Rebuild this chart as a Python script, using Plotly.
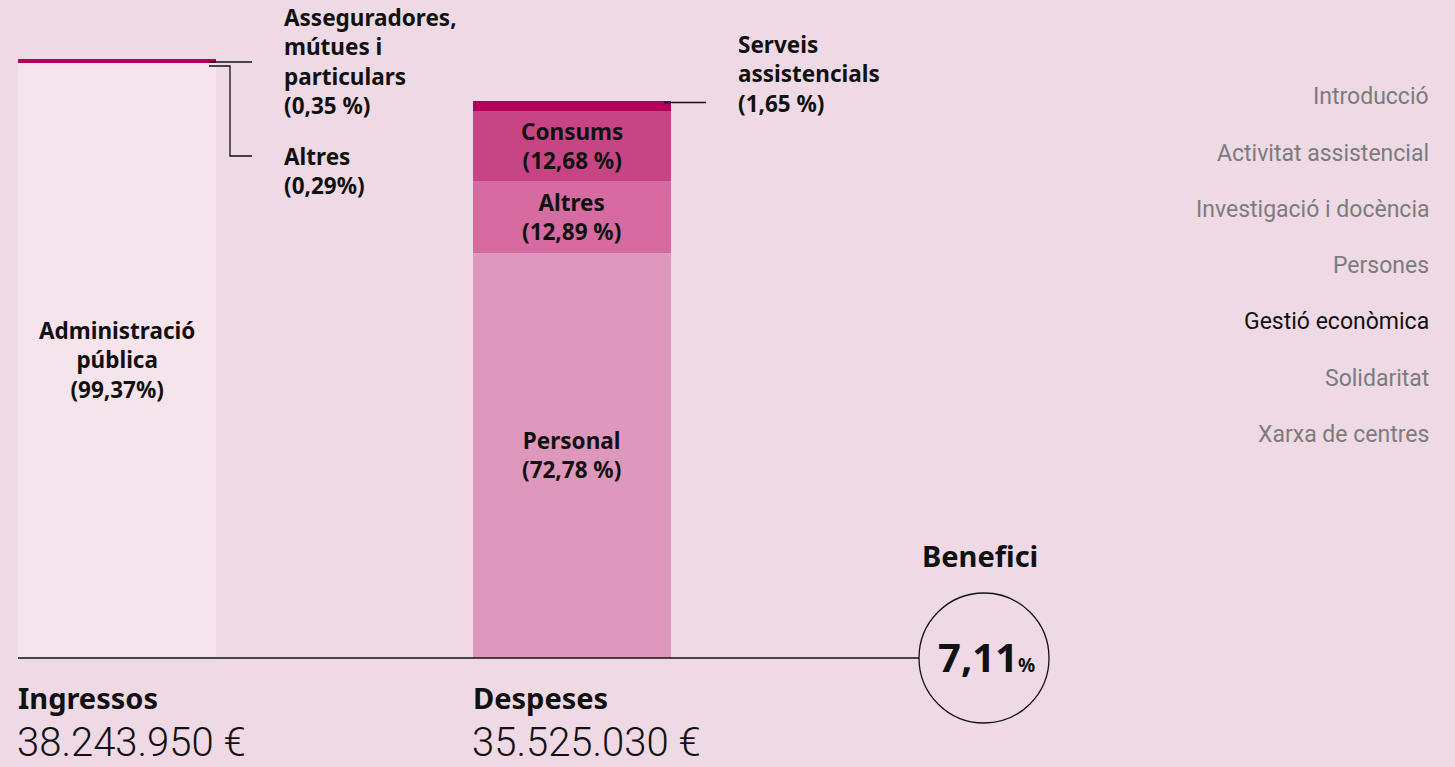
import plotly.graph_objects as go

# ---------------- data ----------------
categories = ["Ingressos", "Despeses"]
totals = [38243950, 35525030]
total_labels = ["38.243.950 €", "35.525.030 €"]

income_names = ["Administració pública", "Altres", "Asseguradores, mútues i particulars"]
income_pct = [99.37, 0.29, 0.35]

expense_names = ["Personal", "Altres", "Consums", "Serveis assistencials"]
expense_pct = [72.78, 12.89, 12.68, 1.65]

benefit_pct = "7,11"

nav_items = ["Introducció", "Activitat assistencial", "Investigació i docència",
             "Persones", "Gestió econòmica", "Solidaritat", "Xarxa de centres"]
nav_active = "Gestió econòmica"

# ---------------- style ----------------
W, H = 1455, 767
BG = "#EED9E5"
income_colors = ["#F6E4ED", "#B5005B", "#B5005B"]
expense_colors = ["#DE97BD", "#D56BA0", "#C84585", "#B5005B"]
LABEL_FONT = dict(family="Noto Sans", size=22.5, color="#111111")

# pixel geometry of the plotting scale
base_px = 658          # baseline pixel
px_per_euro = 15.67e-6  # pixels per euro
y_top = base_px / px_per_euro
y_bot = -(H - base_px) / px_per_euro
cat_step = 454.5
x0 = -117 / cat_step
x1 = x0 + W / cat_step
bar_w = 198 / cat_step


def px(x):
    return x / W


def py(y):
    return 1 - y / H


def val_to_px(v):
    return base_px - v * px_per_euro


fig = go.Figure()

for name, pct, col in zip(income_names, income_pct, income_colors):
    fig.add_trace(go.Bar(x=[categories[0]], y=[totals[0] * pct / 100], name=name,
                         marker=dict(color=col, line=dict(width=0)), width=bar_w,
                         hoverinfo="skip"))
for name, pct, col in zip(expense_names, expense_pct, expense_colors):
    fig.add_trace(go.Bar(x=[categories[1]], y=[totals[1] * pct / 100], name=name,
                         marker=dict(color=col, line=dict(width=0)), width=bar_w,
                         hoverinfo="skip"))

ann = []


def fmt(p, space=True):
    s = f"{p:.2f}".replace(".", ",")
    return f"({s} %)" if space else f"({s}%)"


def label(lines, x, y_center, xanchor):
    ann.append(dict(x=x, y=py(y_center), xref="paper", yref="paper", xanchor=xanchor,
                    yanchor="middle", text="<b>" + "<br>".join(lines) + "</b>",
                    showarrow=False, font=LABEL_FONT,
                    align="center" if xanchor == "center" else "left"))


# inside labels: income
label(["Administració", "pública", fmt(income_pct[0], False)], px(117),
      val_to_px(totals[0] * income_pct[0] / 100 / 2), "center")
# inside labels: expenses
cum = 0
for i, (name, pct) in enumerate(zip(expense_names, expense_pct)):
    v = totals[1] * pct / 100
    if i < 3:
        label([name, fmt(pct)], px(571.5), val_to_px(cum + v / 2), "center")
    cum += v

# outside labels
label(["Asseguradores,", "mútues i", "particulars", fmt(income_pct[2])], px(282), 61, "left")
label(["Altres", fmt(income_pct[1], False)], px(282), 171, "left")
label(["Serveis", "assistencials", fmt(expense_pct[3])], px(736), 74, "left")

# bottom totals
for cx, cat, tl in zip([18, 473], categories, total_labels):
    ann.append(dict(x=px(cx - 2), y=py(697), xref="paper", yref="paper", xanchor="left", yanchor="middle",
                    text=f"<b>{cat}</b>", showarrow=False,
                    font=dict(family="Noto Sans", size=29, color="#111111")))
    ann.append(dict(x=px(cx - 3), y=py(742), xref="paper", yref="paper", xanchor="left", yanchor="middle",
                    text=tl, showarrow=False,
                    font=dict(family="Roboto", size=40, color="#111111", weight=300)))

# benefit
ann.append(dict(x=px(980), y=py(555), xref="paper", yref="paper", xanchor="center", yanchor="middle",
                text="<b>Benefici</b>", showarrow=False,
                font=dict(family="Noto Sans", size=29, color="#111111")))
ann.append(dict(x=px(986), y=py(656), xref="paper", yref="paper", xanchor="center", yanchor="middle",
                text=f"<b>{benefit_pct}</b><b><span style='font-size:19px'>%</span></b>",
                showarrow=False,
                font=dict(family="Noto Sans", size=40, color="#111111")))

# navigation
for i, item in enumerate(nav_items):
    ann.append(dict(x=px(1431), y=py(97 + i * 56.2), xref="paper", yref="paper",
                    xanchor="right", yanchor="middle", text=item, showarrow=False,
                    font=dict(family="Roboto", size=23,
                              color="#111111" if item == nav_active else "#7C7C7C")))

line = dict(color="#111111", width=1.3)
shapes = [
    # baseline
    dict(type="line", xref="paper", yref="paper", x0=px(18), x1=px(919), y0=py(658), y1=py(658), line=line),
    # circle
    dict(type="circle", xref="paper", yref="paper", x0=px(919), x1=px(1049), y0=py(593), y1=py(723),
         line=line),
    # leaders
    dict(type="line", xref="paper", yref="paper", x0=px(209), x1=px(252), y0=py(62), y1=py(62), line=line),
    dict(type="path", xref="paper", yref="paper",
         path=f"M {px(209)},{py(66)} L {px(230)},{py(66)} L {px(230)},{py(156)} L {px(252)},{py(156)}",
         line=line),
    dict(type="line", xref="paper", yref="paper", x0=px(664), x1=px(706), y0=py(102.5), y1=py(102.5), line=line),
]

fig.update_layout(
    width=W, height=H, margin=dict(l=0, r=0, t=0, b=0),
    paper_bgcolor=BG, plot_bgcolor=BG,
    barmode="stack", bargap=0, showlegend=False,
    xaxis=dict(type="category", range=[x0, x1], visible=False, fixedrange=True),
    yaxis=dict(range=[y_bot, y_top], visible=False, fixedrange=True),
    annotations=ann, shapes=shapes,
)

fig.write_html("out.html", config={"displayModeBar": False})
